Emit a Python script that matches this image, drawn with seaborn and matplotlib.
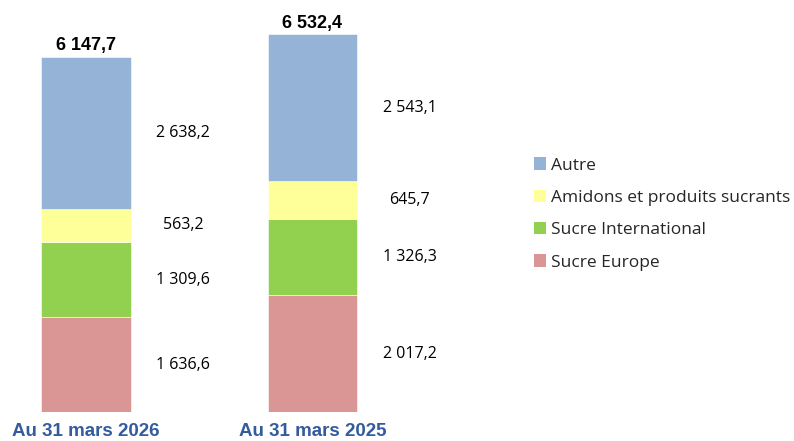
import matplotlib.pyplot as plt
import pandas as pd
import seaborn as sns
from matplotlib.patches import Patch

sns.set_theme(style="white")
plt.rcParams["font.family"] = ["Open Sans", "DejaVu Sans"]

# Chiffre d'affaires par segment (bas -> haut de la pile)
df = pd.DataFrame(
    {
        "Sucre Europe": [1636.6, 2017.2],
        "Sucre International": [1309.6, 1326.3],
        "Amidons et produits sucrants": [563.2, 645.7],
        "Autre": [2638.2, 2543.1],
    },
    index=["Au 31 mars 2026", "Au 31 mars 2025"],
)
totals = [6147.7, 6532.4]
colors = {
    "Sucre Europe": "#DA9694",
    "Sucre International": "#92D050",
    "Amidons et produits sucrants": "#FFFF99",
    "Autre": "#95B3D7",
}


def fr(v):
    # format francais : espace pour les milliers, virgule decimale
    s = f"{v:,.1f}"
    return s.replace(",", " ").replace(".", ",")


fig = plt.figure(figsize=(7.94, 4.41), dpi=100)
ax = fig.add_axes([0, 29 / 441, 1, 412 / 441])

x = list(range(len(df)))
bottom = [0.0] * len(df)
for col in df.columns:
    vals = df[col].tolist()
    ax.bar(x, vals, bottom=bottom, width=0.397, color=colors[col],
           edgecolor="white", linewidth=0.4)
    for i, v in enumerate(vals):
        ax.text(x[i] + 0.428, bottom[i] + v / 2, fr(v), ha="center",
                va="center", fontsize=11.5, color="black")
    bottom = [b + v for b, v in zip(bottom, vals)]

for i, t in enumerate(totals):
    ax.text(x[i], t + 40, fr(t), ha="center", va="bottom", fontsize=13,
            fontweight="bold", family="Liberation Sans", color="black")

# libelles sous les barres
for i, lab in enumerate(df.index):
    ax.text(x[i], -0.027, lab, transform=ax.get_xaxis_transform(),
            ha="center", va="top", fontsize=13.5, fontweight="bold",
            family="Liberation Sans", color="#335B9E")

ax.set_xlim(-86 / 226.5, (794 - 86) / 226.5)
ax.set_ylim(0, 412 / 0.0578)
ax.axis("off")

handles = [Patch(facecolor=colors[c], edgecolor="none") for c in
           ["Autre", "Amidons et produits sucrants", "Sucre International",
            "Sucre Europe"]]
ax.legend(handles, ["Autre", "Amidons et produits sucrants",
                    "Sucre International", "Sucre Europe"],
          loc="center left", bbox_to_anchor=(518 / 794, (412 - 214) / 412),
          frameon=False, fontsize=12.5, handlelength=0.7, handleheight=0.7,
          handletextpad=0.3, labelspacing=0.93)

fig.savefig("out.png", dpi=100)
